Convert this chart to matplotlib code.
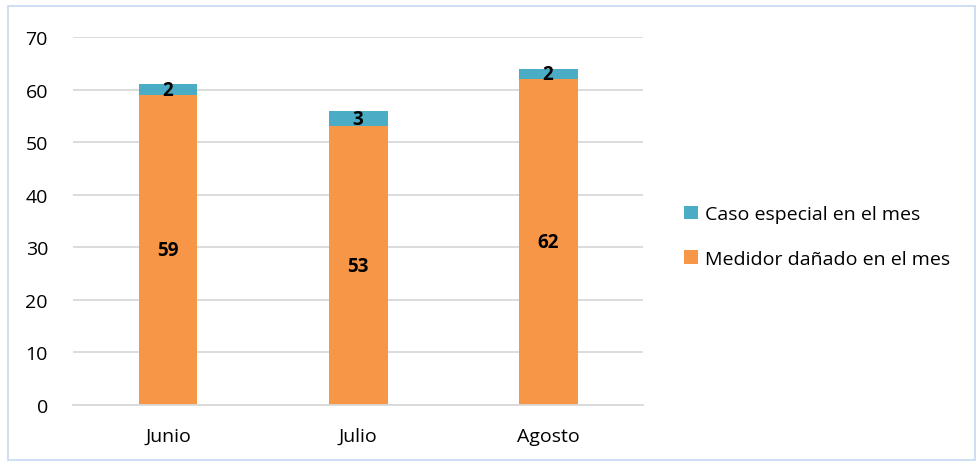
import matplotlib

matplotlib.use("Agg")
import matplotlib.pyplot as plt
from matplotlib.patches import Rectangle

months = ["Junio", "Julio", "Agosto"]
medidor_danado = [59, 53, 62]
caso_especial = [2, 3, 2]

ORANGE = "#f79646"
TEAL = "#4bacc6"
GRID = "#d9d9d9"

plt.rcParams["font.family"] = ["Open Sans", "DejaVu Sans"]

fig = plt.figure(figsize=(9.78, 4.64), dpi=100)
ax = fig.add_axes([0.0746, 0.125, 0.583, 0.793])

x = list(range(len(months)))
width = 0.31
ax.bar(x, medidor_danado, width=width, color=ORANGE, zorder=2,
       label="Medidor dañado en el mes")
ax.bar(x, caso_especial, width=width, bottom=medidor_danado, color=TEAL,
       zorder=2, label="Caso especial en el mes")

for xi, base, top in zip(x, medidor_danado, caso_especial):
    ax.text(xi, base / 2, str(base), ha="center", va="center",
            fontsize=13.5, fontweight="bold", color="black", zorder=3)
    ax.text(xi, base + top / 2, str(top), ha="center", va="center",
            fontsize=13.5, fontweight="bold", color="black", zorder=3)

ax.set_xlim(-0.5, 2.5)
ax.set_ylim(0, 70)
ax.set_yticks(range(0, 71, 10))
ax.set_xticks(x)
ax.set_xticklabels(months)
ax.yaxis.grid(True, color=GRID, linewidth=1.3, zorder=0)
ax.set_axisbelow(True)
for side in ("top", "right", "left"):
    ax.spines[side].set_visible(False)
ax.spines["bottom"].set_color(GRID)
ax.spines["bottom"].set_linewidth(1.3)
ax.tick_params(axis="both", length=0, labelsize=14, colors="black")
ax.tick_params(axis="y", pad=18)
ax.tick_params(axis="x", pad=16)

handles, labels = ax.get_legend_handles_labels()
fig.legend(handles[::-1], labels[::-1], loc="center left",
           bbox_to_anchor=(0.682, 0.488), frameon=False, fontsize=14,
           handlelength=0.7, handleheight=0.7, handletextpad=0.35,
           labelspacing=1.35)

# light frame around the whole chart
fig.patches.append(Rectangle((0.008, 0.006), 0.989, 0.978, transform=fig.transFigure,
                             fill=False, edgecolor="#c6d9f1", linewidth=1.2))

fig.savefig("out.png", dpi=100)
plt.close(fig)
